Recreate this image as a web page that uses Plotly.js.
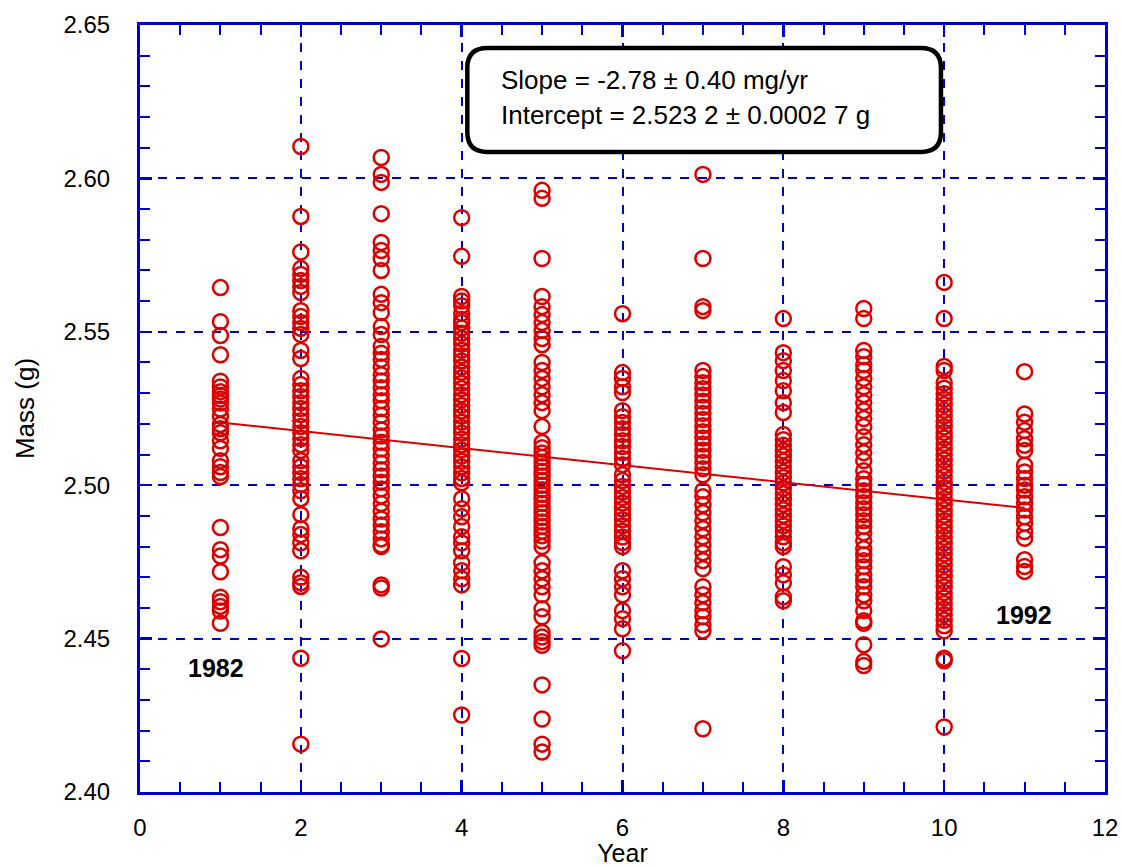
<!DOCTYPE html>
<html>
<head>
<meta charset="utf-8">
<script src="https://cdn.plot.ly/plotly-3.0.1.min.js"></script>
<style>html,body{margin:0;padding:0;background:#fff;}#chart{width:1122px;height:867px;}</style>
</head>
<body>
<div id="chart"></div>
<script>
// Measurement years (1 = 1982 ... 11 = 1992) and masses (g)
const years = [1, 2, 3, 4, 5, 6, 7, 8, 9, 10, 11];
const mass1 = [2.5644, 2.5533, 2.5488, 2.5425, 2.5339, 2.5320, 2.5305, 2.5292, 2.5281, 2.5268, 2.5248, 2.5225, 2.5198, 2.5184, 2.5171, 2.5145, 2.5120, 2.5080, 2.5060, 2.5041, 2.5028, 2.4862, 2.4790, 2.4769, 2.4718, 2.4635, 2.4620, 2.4605, 2.4590, 2.4550];
const mass2 = [2.6104, 2.5876, 2.5760, 2.5706, 2.5687, 2.5667, 2.5648, 2.5628, 2.5569, 2.5550, 2.5530, 2.5511, 2.5491, 2.5439, 2.5413, 2.5348, 2.5328, 2.5308, 2.5289, 2.5269, 2.5250, 2.5230, 2.5210, 2.5191, 2.5171, 2.5152, 2.5132, 2.5113, 2.5080, 2.5060, 2.5041, 2.5021, 2.5002, 2.4982, 2.4956, 2.4904, 2.4858, 2.4839, 2.4812, 2.4786, 2.4700, 2.4682, 2.4670, 2.4436, 2.4156];
const mass3 = [2.6068, 2.6013, 2.5987, 2.5885, 2.5791, 2.5765, 2.5739, 2.5700, 2.5622, 2.5595, 2.5563, 2.5517, 2.5491, 2.5452, 2.5430, 2.5410, 2.5385, 2.5360, 2.5340, 2.5318, 2.5295, 2.5275, 2.5250, 2.5228, 2.5205, 2.5180, 2.5160, 2.5140, 2.5118, 2.5095, 2.5072, 2.5050, 2.5030, 2.5010, 2.4988, 2.4965, 2.4940, 2.4915, 2.4890, 2.4870, 2.4848, 2.4825, 2.4805, 2.4800, 2.4675, 2.4665, 2.4499];
const mass4 = [2.5872, 2.5746, 2.5615, 2.5600, 2.5585, 2.5560, 2.5540, 2.5530, 2.5512, 2.5495, 2.5478, 2.5460, 2.5440, 2.5422, 2.5405, 2.5385, 2.5368, 2.5350, 2.5332, 2.5315, 2.5295, 2.5278, 2.5260, 2.5242, 2.5225, 2.5205, 2.5188, 2.5170, 2.5150, 2.5132, 2.5115, 2.5095, 2.5078, 2.5060, 2.5040, 2.5022, 2.5008, 2.4956, 2.4923, 2.4897, 2.4865, 2.4832, 2.4812, 2.4786, 2.4747, 2.4721, 2.4695, 2.4675, 2.4435, 2.4251];
const mass5 = [2.5961, 2.5935, 2.5739, 2.5615, 2.5582, 2.5556, 2.5530, 2.5504, 2.5478, 2.5458, 2.5400, 2.5374, 2.5348, 2.5321, 2.5295, 2.5269, 2.5243, 2.5191, 2.5139, 2.5122, 2.5105, 2.5090, 2.5075, 2.5060, 2.5045, 2.5030, 2.5015, 2.5000, 2.4985, 2.4970, 2.4955, 2.4940, 2.4925, 2.4910, 2.4895, 2.4880, 2.4865, 2.4850, 2.4835, 2.4818, 2.4800, 2.4747, 2.4721, 2.4695, 2.4669, 2.4643, 2.4597, 2.4571, 2.4520, 2.4505, 2.4490, 2.4478, 2.4349, 2.4238, 2.4156, 2.4130];
const mass6 = [2.5559, 2.5367, 2.5348, 2.5321, 2.5302, 2.5243, 2.5223, 2.5204, 2.5184, 2.5165, 2.5145, 2.5126, 2.5106, 2.5087, 2.5067, 2.5034, 2.5015, 2.4996, 2.4978, 2.4960, 2.4942, 2.4923, 2.4905, 2.4887, 2.4868, 2.4850, 2.4831, 2.4813, 2.4800, 2.4721, 2.4695, 2.4669, 2.4643, 2.4591, 2.4565, 2.4532, 2.4460];
const mass7 = [2.6013, 2.5739, 2.5582, 2.5569, 2.5374, 2.5354, 2.5334, 2.5314, 2.5294, 2.5274, 2.5254, 2.5234, 2.5214, 2.5194, 2.5174, 2.5154, 2.5134, 2.5114, 2.5094, 2.5074, 2.5054, 2.5034, 2.4982, 2.4962, 2.4936, 2.4910, 2.4884, 2.4858, 2.4832, 2.4806, 2.4780, 2.4754, 2.4728, 2.4669, 2.4643, 2.4617, 2.4591, 2.4571, 2.4545, 2.4525, 2.4206];
const mass8 = [2.5543, 2.5432, 2.5406, 2.5374, 2.5341, 2.5308, 2.5269, 2.5237, 2.5165, 2.5148, 2.5130, 2.5112, 2.5095, 2.5078, 2.5060, 2.5042, 2.5025, 2.5008, 2.4990, 2.4972, 2.4955, 2.4938, 2.4920, 2.4902, 2.4885, 2.4868, 2.4850, 2.4832, 2.4812, 2.4800, 2.4734, 2.4708, 2.4682, 2.4636, 2.4623];
const mass9 = [2.5576, 2.5543, 2.5439, 2.5419, 2.5393, 2.5374, 2.5348, 2.5321, 2.5295, 2.5269, 2.5243, 2.5217, 2.5191, 2.5158, 2.5132, 2.5106, 2.5080, 2.5047, 2.5021, 2.5002, 2.4982, 2.4963, 2.4943, 2.4923, 2.4904, 2.4884, 2.4865, 2.4845, 2.4819, 2.4793, 2.4773, 2.4754, 2.4734, 2.4708, 2.4688, 2.4669, 2.4643, 2.4623, 2.4591, 2.4558, 2.4550, 2.4480, 2.4425, 2.4412];
const mass10 = [2.5661, 2.5543, 2.5387, 2.5374, 2.5334, 2.5316, 2.5298, 2.5280, 2.5262, 2.5244, 2.5226, 2.5208, 2.5190, 2.5172, 2.5154, 2.5136, 2.5118, 2.5100, 2.5082, 2.5064, 2.5046, 2.5028, 2.5010, 2.4992, 2.4974, 2.4956, 2.4938, 2.4920, 2.4902, 2.4884, 2.4866, 2.4848, 2.4830, 2.4812, 2.4794, 2.4776, 2.4758, 2.4740, 2.4722, 2.4704, 2.4686, 2.4668, 2.4650, 2.4632, 2.4614, 2.4596, 2.4578, 2.4560, 2.4542, 2.4525, 2.4436, 2.4428, 2.4212];
const mass11 = [2.5370, 2.5232, 2.5205, 2.5178, 2.5151, 2.5130, 2.5113, 2.5065, 2.5043, 2.5022, 2.5000, 2.4984, 2.4962, 2.4941, 2.4919, 2.4897, 2.4876, 2.4849, 2.4827, 2.4757, 2.4735, 2.4719];

// Linear fit
const fitSlope = -0.00278;   // g/yr
const fitIntercept = 2.5232; // g
const fitRange = [1, 11];

const labelSlope = 'Slope = -2.78 ± 0.40 mg/yr';
const labelIntercept = 'Intercept = 2.523 2 ± 0.0002 7 g';
const labelFirst = '1982';
const labelLast = '1992';

const allMass = [mass1, mass2, mass3, mass4, mass5, mass6, mass7, mass8, mass9, mass10, mass11];
const xs = [], ys = [];
allMass.forEach((arr, i) => arr.forEach(v => { xs.push(years[i]); ys.push(v); }));

const BLUE = '#0000cc';
const RED = '#dd0000';
const FONT = 'Liberation Sans, Arial, sans-serif';

const traces = [
  {
    x: xs, y: ys, type: 'scatter', mode: 'markers',
    marker: {symbol: 'circle-open', size: 15, color: RED, line: {color: RED, width: 2.5}},
    hoverinfo: 'x+y', showlegend: false
  },
  {
    x: fitRange, y: fitRange.map(t => fitIntercept + fitSlope * t),
    type: 'scatter', mode: 'lines', line: {color: RED, width: 2}, showlegend: false
  }
];

const axisCommon = {
  showline: true, linecolor: BLUE, linewidth: 3, mirror: 'allticks',
  ticks: 'inside', ticklen: 12, tickwidth: 2.5, tickcolor: BLUE,
  showgrid: true, gridcolor: BLUE, gridwidth: 2, griddash: 'dash',
  zeroline: false, tickfont: {family: FONT, size: 24, color: '#000'}
};

// rounded box for the fit results (data units)
const bx0 = 4.07, bx1 = 9.96, by0 = 2.6086, by1 = 2.6425, rx = 0.25, ry = 0.0065;
const boxPath = `M ${bx0+rx} ${by1} L ${bx1-rx} ${by1} Q ${bx1} ${by1} ${bx1} ${by1-ry} L ${bx1} ${by0+ry} Q ${bx1} ${by0} ${bx1-rx} ${by0} L ${bx0+rx} ${by0} Q ${bx0} ${by0} ${bx0} ${by0+ry} L ${bx0} ${by1-ry} Q ${bx0} ${by1} ${bx0+rx} ${by1} Z`;

const layout = {
  width: 1122, height: 867,
  margin: {l: 140, r: 17, t: 25, b: 75},
  paper_bgcolor: '#fff', plot_bgcolor: '#fff',
  font: {family: FONT, color: '#000'},
  xaxis: Object.assign({}, axisCommon, {
    range: [0, 12], tick0: 0, dtick: 2, ticklabelstandoff: 12,
    minor: {dtick: 0.5, ticks: 'inside', ticklen: 10, tickwidth: 2, tickcolor: BLUE, showgrid: false},
    title: {text: 'Year', font: {family: FONT, size: 25, color: '#000'}, standoff: 18}
  }),
  yaxis: Object.assign({}, axisCommon, {
    range: [2.40, 2.65], tick0: 2.40, dtick: 0.05, tickformat: '.2f', ticklabelstandoff: 22,
    minor: {dtick: 0.01, ticks: 'inside', ticklen: 10, tickwidth: 2, tickcolor: BLUE, showgrid: false},
    title: {text: 'Mass (g)', font: {family: FONT, size: 26, color: '#000'}, standoff: 22}
  }),
  shapes: [
    {type: 'path', xref: 'x', yref: 'y', path: boxPath, line: {color: '#000', width: 4.5}, fillcolor: '#fff', layer: 'above'}
  ],
  annotations: [
    {xref: 'x', yref: 'y', x: 4.47, y: 2.6321, xanchor: 'left', yanchor: 'middle', showarrow: false, text: labelSlope, font: {family: FONT, size: 26, color: '#000'}},
    {xref: 'x', yref: 'y', x: 4.47, y: 2.6207, xanchor: 'left', yanchor: 'middle', showarrow: false, text: labelIntercept, font: {family: FONT, size: 26, color: '#000'}},
    {xref: 'x', yref: 'y', x: 0.945, y: 2.4404, xanchor: 'center', yanchor: 'middle', showarrow: false, text: '<b>' + labelFirst + '</b>', font: {family: FONT, size: 25, color: '#000'}},
    {xref: 'x', yref: 'y', x: 10.99, y: 2.4577, xanchor: 'center', yanchor: 'middle', showarrow: false, text: '<b>' + labelLast + '</b>', font: {family: FONT, size: 25, color: '#000'}}
  ]
};

Plotly.newPlot('chart', traces, layout, {staticPlot: true, displayModeBar: false});
</script>
</body>
</html>
